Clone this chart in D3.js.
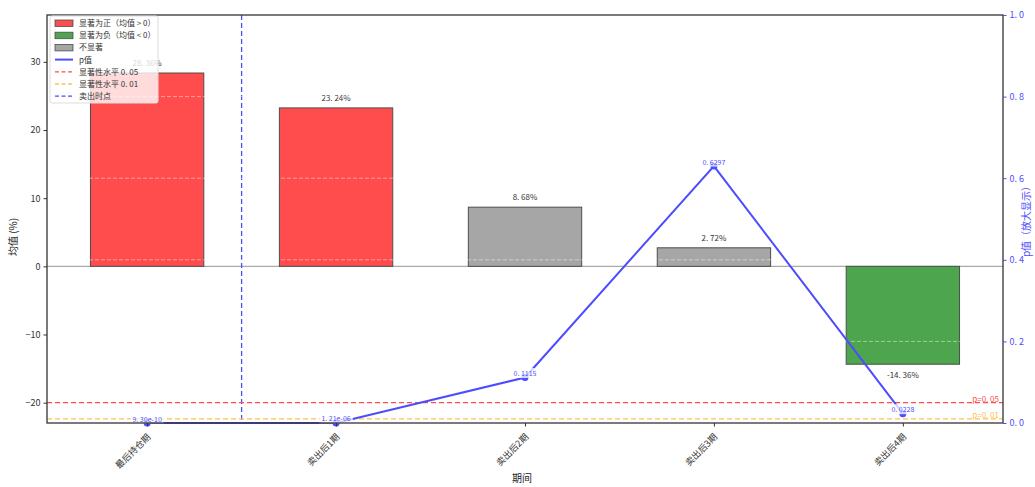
<!DOCTYPE html>
<html><head><meta charset="utf-8">
<script src="https://cdn.jsdelivr.net/npm/d3@7"></script>
<style>body{margin:0;background:#fff;}svg{display:block;font-family:"Noto Sans CJK SC","DejaVu Sans",sans-serif;}</style>
</head><body><svg id="c" width="1035" height="487"></svg>
<script>
const categories = ["最后持仓期","卖出后1期","卖出后2期","卖出后3期","卖出后4期"];
const meanValues = [28.36, 23.24, 8.68, 2.72, -14.36];
const pValues = [9.30e-10, 1.21e-06, 0.1115, 0.6297, 0.0228];
const pLabels = ["9.30e-10","1.21e-06","0.1115","0.6297","0.0228"];
const meanTicks = [-20,-10,0,10,20,30];
const pTicks = [0,0.2,0.4,0.6,0.8,1.0];
const sigLevels = [0.05, 0.01];

const svg = d3.select("#c");
const L=47,R=1003,T=15,B=423;
const x = d3.scaleLinear().domain([-0.53,4.53]).range([L,R]);
const y = d3.scaleLinear().domain([-22.98,36.87]).range([B,T]);
const yp = d3.scaleLinear().domain([0,1]).range([B,T]);
const bw = x(0.3)-x(0);
const fillFor = (v,p)=> p<0.05 ? (v>0?"#ff4d4d":"#4da64d") : "#a6a6a6";
const blue="#4d4dff";

// zero line
svg.append("line").attr("x1",L).attr("x2",R).attr("y1",y(0)).attr("y2",y(0)).attr("stroke","#aaa").attr("stroke-width",1.2);

// bars
svg.selectAll("rect.bar").data(meanValues).enter().append("rect")
 .attr("x",(d,i)=>x(i)-bw).attr("width",2*bw)
 .attr("y",d=>y(Math.max(0,d))).attr("height",d=>Math.abs(y(d)-y(0)))
 .attr("fill",(d,i)=>fillFor(d,pValues[i])).attr("stroke","#4d4d4d").attr("stroke-width",1);

// bar labels
svg.selectAll("text.bl").data(meanValues).enter().append("text")
 .attr("x",(d,i)=>x(i)).attr("y",d=> d>=0 ? y(d)-7 : y(d)+14)
 .attr("text-anchor","middle").attr("font-size",8).attr("fill","#333")
 .text(d=>d.toFixed(2).replace(".",". ")+"%");

// vertical sell line
svg.append("line").attr("x1",x(0.5)).attr("x2",x(0.5)).attr("y1",T).attr("y2",B)
 .attr("stroke",blue).attr("stroke-width",1.3).attr("stroke-dasharray","5,3");

// p-axis grid (visible only over bars)
svg.selectAll("line.grid").data([0.2,0.4,0.6,0.8]).enter().append("line")
 .attr("x1",L).attr("x2",R).attr("y1",d=>yp(d)).attr("y2",d=>yp(d))
 .attr("stroke","#fff").attr("stroke-opacity",0.45).attr("stroke-dasharray","4,2").attr("stroke-width",1);

// significance lines
const sigCol=["#ff4d4d","#ffc04d"];
sigLevels.forEach((s,i)=>{
  svg.append("line").attr("x1",L).attr("x2",R).attr("y1",yp(s)).attr("y2",yp(s))
   .attr("stroke",sigCol[i]).attr("stroke-width",1.2).attr("stroke-dasharray","5,3");
  svg.append("text").attr("x",R-4).attr("y",yp(s)-1).attr("text-anchor","end")
   .attr("font-size",8).attr("fill",sigCol[i]).text("p="+(s===0.05?"0.05":"0.01").replace(".",". "));
});

// p line
const line=d3.line().x((d,i)=>x(i)).y(d=>yp(d));
svg.append("path").datum(pValues).attr("d",line).attr("fill","none").attr("stroke",blue).attr("stroke-width",2);
svg.selectAll("circle.pm").data(pValues).enter().append("circle")
 .attr("cx",(d,i)=>x(i)).attr("cy",d=>yp(d)).attr("r",3.5).attr("fill",blue);
// p labels with bbox
pValues.forEach((p,i)=>{
  const g=svg.append("g");
  const t=g.append("text").attr("x",x(i)).attr("y",yp(p)-1.5).attr("text-anchor","middle")
   .attr("font-size",7).attr("fill",blue).text(pLabels[i].replace(".",". "));
  const bb=t.node().getBBox();
  g.insert("rect","text").attr("x",bb.x-2).attr("y",bb.y).attr("width",bb.width+4).attr("height",bb.height)
   .attr("fill","#fff").attr("fill-opacity",0.75);
});

// frame
svg.append("rect").attr("x",L).attr("y",T).attr("width",R-L).attr("height",B-T)
 .attr("fill","none").attr("stroke","#333").attr("stroke-width",1.3);

// left axis
const ga=svg.append("g").attr("transform",`translate(${L},0)`)
 .call(d3.axisLeft(y).tickValues(meanTicks).tickSize(3.5).tickPadding(3));
ga.select(".domain").remove();
ga.selectAll("text").attr("font-size",9).attr("fill","#333").attr("font-family","'Noto Sans CJK SC',sans-serif");
ga.selectAll("line").attr("stroke","#333");
// right axis
const gr=svg.append("g").attr("transform",`translate(${R},0)`)
 .call(d3.axisRight(yp).tickValues(pTicks).tickFormat(d=>d3.format(".1f")(d).replace(".",". ")).tickSize(3.5).tickPadding(3));
gr.select(".domain").remove();
gr.selectAll("text").attr("font-size",9).attr("fill",blue).attr("font-family","'Noto Sans CJK SC',sans-serif");
gr.selectAll("line").attr("stroke",blue);
// bottom axis
const gb=svg.append("g").attr("transform",`translate(0,${B})`)
 .call(d3.axisBottom(x).tickValues(d3.range(categories.length)).tickFormat(i=>categories[i]).tickSize(3.5));
gb.select(".domain").remove();
gb.selectAll("line").attr("stroke","#333");
gb.selectAll("text").attr("font-size",9).attr("fill","#333").attr("font-family","'Noto Sans CJK SC',sans-serif")
 .attr("text-anchor","end").attr("dy","0.3em").attr("transform","translate(-3,8) rotate(-45)");

// titles
svg.append("text").attr("x",522).attr("y",482).attr("text-anchor","middle").attr("font-size",10).attr("fill","#222").text("期间");
svg.append("text").attr("transform","translate(17,237) rotate(-90)").attr("text-anchor","middle").attr("font-size",10).attr("fill","#222").text("均值 (%)");
svg.append("text").attr("transform","translate(1030,219) rotate(-90)").attr("text-anchor","middle").attr("font-size",10).attr("fill",blue).text("p值（放大显示）");

// legend
const lg=svg.append("g").attr("transform","translate(50,16)");
lg.append("rect").attr("width",108).attr("height",87).attr("rx",2).attr("fill","#fff").attr("fill-opacity",0.8).attr("stroke","#ddd");
const items=[
 {t:"显著为正（均值 > 0）",k:"patch",c:"#ff4d4d"},
 {t:"显著为负（均值 < 0）",k:"patch",c:"#4da64d"},
 {t:"不显著",k:"patch",c:"#a6a6a6"},
 {t:"p值",k:"line",c:blue},
 {t:"显著性水平 0. 05",k:"dash",c:"#ff4d4d"},
 {t:"显著性水平 0. 01",k:"dash",c:"#ffc04d"},
 {t:"卖出时点",k:"dash",c:blue}];
items.forEach((it,i)=>{
  const yy=7+i*12.2;
  if(it.k==="patch") lg.append("rect").attr("x",5).attr("y",yy-3).attr("width",18).attr("height",6.5).attr("fill",it.c).attr("stroke","#4d4d4d").attr("stroke-width",0.8);
  else lg.append("line").attr("x1",5).attr("x2",23).attr("y1",yy).attr("y2",yy).attr("stroke",it.c).attr("stroke-width",it.k==="line"?2:1.3).attr("stroke-dasharray",it.k==="dash"?"4,2.5":null);
  lg.append("text").attr("x",29).attr("y",yy+3).attr("font-size",8).attr("fill","#333").text(it.t);
});
</script></body></html>
